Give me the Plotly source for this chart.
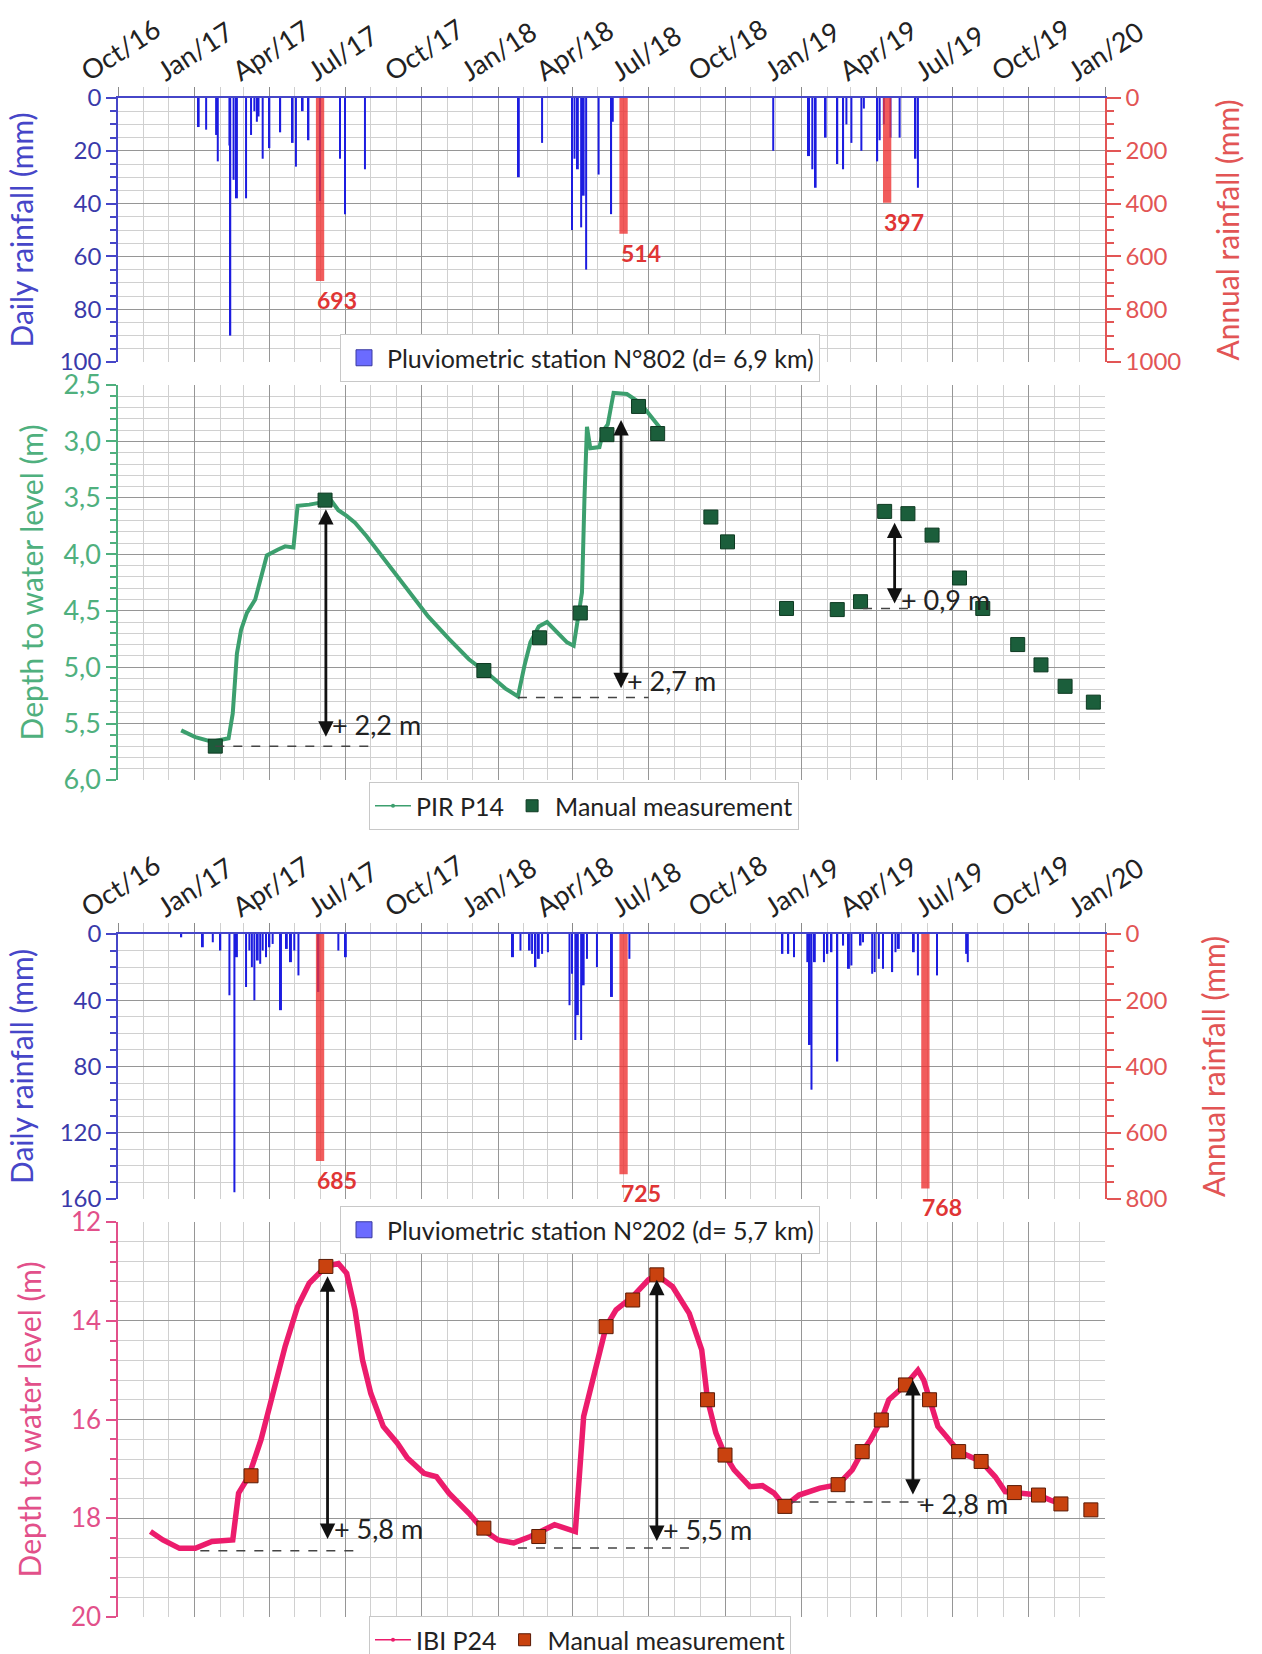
import plotly.graph_objects as go

# ---------------- DATA ----------------
X_START, X_END = "2016-10-01", "2020-01-01"

rain802_dates = ["2017-01-06","2017-01-15","2017-01-27","2017-01-29","2017-02-12","2017-02-13","2017-02-17","2017-02-21",
                 "2017-03-04","2017-03-10","2017-03-14","2017-03-17","2017-03-19","2017-03-24","2017-04-01","2017-04-14",
                 "2017-04-29","2017-05-03","2017-05-11","2017-05-18","2017-06-01","2017-06-25","2017-07-01","2017-07-25",
                 "2018-01-26","2018-02-23","2018-03-31","2018-04-03","2018-04-07","2018-04-11","2018-04-14","2018-04-17",
                 "2018-05-02","2018-05-17","2018-05-19","2018-11-28","2019-01-10","2019-01-14","2019-01-18","2019-01-30",
                 "2019-02-13","2019-02-20","2019-02-24","2019-03-02","2019-03-14","2019-03-17","2019-04-02","2019-04-05",
                 "2019-04-10","2019-04-18","2019-04-29","2019-05-18","2019-05-21"]
rain802_mm = [11,12,14,24,18,90,31,38,
              38,14,5,9,7,23,19,13,
              17,26,5,16,39,23,44,27,
              30,17,50,23,27,49,37,65,
              29,44,9,20,22,27,34,15,
              25,27,10,17,20,4,24,16,
              10,15,15,23,34]
annual802_dates = ["2017-06-01","2018-06-01","2019-04-14"]
annual802_mm = [693,514,397]

rain202_dates = ["2016-12-16","2017-01-11","2017-01-23","2017-02-01","2017-02-12","2017-02-18","2017-02-21","2017-03-04",
                 "2017-03-08","2017-03-11","2017-03-14","2017-03-18","2017-03-21","2017-03-24","2017-03-28","2017-04-01",
                 "2017-04-05","2017-04-15","2017-04-22","2017-04-27","2017-05-01","2017-05-06","2017-05-30","2017-06-23",
                 "2017-07-02","2018-01-19","2018-01-28","2018-02-08","2018-02-11","2018-02-15","2018-02-19","2018-02-23",
                 "2018-03-02","2018-03-28","2018-03-31","2018-04-04","2018-04-07","2018-04-11","2018-04-14","2018-04-18",
                 "2018-04-30","2018-05-18","2018-06-08","2018-12-09","2018-12-16","2018-12-23","2019-01-08","2019-01-11",
                 "2019-01-13","2019-01-17","2019-01-28","2019-02-01","2019-02-06","2019-02-13","2019-02-20","2019-02-27",
                 "2019-03-02","2019-03-13","2019-03-16","2019-03-27","2019-03-30","2019-04-04","2019-04-09","2019-04-20",
                 "2019-04-24","2019-04-28","2019-05-16","2019-05-21","2019-06-13","2019-07-18","2019-07-20"]
rain202_mm = [2,8,5,10,37,156,14,32,
              10,20,40,16,18,10,14,8,
              6,46,9,17,10,25,35,10,
              14,14,10,10,12,20,15,12,
              11,43,24,64,49,64,31,15,
              20,38,15,12,12,14,17,67,
              94,17,17,12,11,77,7,21,
              19,7,5,24,23,15,21,23,
              11,9,11,25,25,12,17]
annual202_dates = ["2017-06-01","2018-06-01","2019-05-30"]
annual202_mm = [685,725,768]

p14_dates = ["2016-12-16","2017-01-02","2017-01-22","2017-02-11","2017-02-16","2017-02-21","2017-02-26","2017-03-05",
             "2017-03-15","2017-03-22","2017-03-29","2017-04-11","2017-04-20","2017-04-30","2017-05-05","2017-05-19",
             "2017-06-03","2017-06-13","2017-06-23","2017-07-03","2017-07-13","2017-07-27","2017-08-21","2017-09-14",
             "2017-10-09","2017-11-03","2017-11-27","2017-12-22","2018-01-10","2018-01-25","2018-02-02","2018-02-09",
             "2018-02-19","2018-03-01","2018-03-10","2018-03-25","2018-04-02","2018-04-07","2018-04-12","2018-04-15",
             "2018-04-18","2018-04-22","2018-05-03","2018-05-08","2018-05-13","2018-05-20","2018-06-05","2018-06-21",
             "2018-07-16"]
p14_depth = [5.56,5.62,5.66,5.63,5.41,4.88,4.67,4.52,
             4.40,4.19,4.01,3.96,3.93,3.94,3.57,3.56,
             3.54,3.51,3.61,3.66,3.72,3.84,4.08,4.31,
             4.55,4.75,4.93,5.07,5.19,5.26,4.98,4.78,
             4.64,4.60,4.67,4.78,4.81,4.60,4.34,3.50,
             2.87,3.06,3.05,2.90,2.85,2.57,2.58,2.66,
             2.89]
p14_manual_dates = ["2017-01-26","2017-06-07","2017-12-15","2018-02-20","2018-04-10","2018-05-12","2018-06-19","2018-07-12",
                    "2018-09-14","2018-10-04","2018-12-14","2019-02-13","2019-03-13","2019-04-11","2019-05-09","2019-06-07",
                    "2019-07-10","2019-08-07","2019-09-18","2019-10-16","2019-11-14","2019-12-18"]
p14_manual = [5.70,3.52,5.03,4.74,4.52,2.94,2.69,2.93,
              3.67,3.89,4.48,4.49,4.42,3.62,3.64,3.83,
              4.21,4.48,4.80,4.98,5.17,5.31]

p24_dates = ["2016-11-09","2016-11-24","2016-12-14","2017-01-02","2017-01-22","2017-02-16","2017-02-23","2017-03-07",
             "2017-03-22","2017-04-06","2017-04-20","2017-05-05","2017-05-19","2017-06-08","2017-06-23","2017-07-03",
             "2017-07-13","2017-07-22","2017-08-01","2017-08-16","2017-09-02","2017-09-14","2017-10-04","2017-10-19",
             "2017-11-03","2017-11-27","2017-12-14","2018-01-01","2018-01-20","2018-02-09","2018-03-10","2018-04-04",
             "2018-04-14","2018-05-11","2018-05-23","2018-06-12","2018-07-01","2018-07-11","2018-07-30","2018-08-19",
             "2018-09-03","2018-09-10","2018-09-20","2018-10-01","2018-10-12","2018-10-31","2018-11-15","2018-11-29",
             "2018-12-12","2018-12-29","2019-01-23","2019-02-14","2019-03-03","2019-03-15","2019-03-25","2019-04-07",
             "2019-04-16","2019-05-06","2019-05-21","2019-05-28","2019-06-04","2019-06-14","2019-06-24","2019-07-09",
             "2019-08-05","2019-08-22","2019-09-03","2019-09-14","2019-10-13","2019-10-27","2019-11-09"]
p24_depth = [18.27,18.44,18.61,18.61,18.47,18.44,17.49,17.16,
             16.41,15.47,14.52,13.71,13.24,12.90,12.84,13.04,
             13.78,14.79,15.47,16.14,16.48,16.78,17.09,17.16,
             17.49,17.90,18.23,18.44,18.50,18.37,18.13,18.27,
             15.94,14.12,13.78,13.51,13.17,13.07,13.31,13.85,
             14.59,15.60,16.27,16.72,17.02,17.36,17.34,17.49,
             17.76,17.53,17.39,17.32,17.02,16.65,16.41,16.01,
             15.60,15.30,15.00,15.20,15.60,16.14,16.34,16.65,
             16.85,17.16,17.46,17.48,17.53,17.63,17.71]
p24_manual_dates = ["2017-03-10","2017-06-08","2017-12-15","2018-02-19","2018-05-11","2018-06-12","2018-07-11","2018-09-10",
                    "2018-10-01","2018-12-12","2019-02-14","2019-03-15","2019-04-07","2019-05-06","2019-06-04","2019-07-09",
                    "2019-08-05","2019-09-14","2019-10-13","2019-11-09","2019-12-15"]
p24_manual = [17.14,12.90,18.20,18.37,14.12,13.58,13.07,15.60,
              16.72,17.76,17.32,16.65,16.01,15.30,15.60,16.65,
              16.85,17.48,17.53,17.71,17.83]

# rises: (date, top, bottom, label, label_y)
p14_rises = [("2017-06-08", 3.60, 5.63, "+ 2,2 m", 5.51),
             ("2018-05-29", 2.81, 5.20, "+ 2,7 m", 5.12),
             ("2019-04-23", 3.72, 4.45, "+ 0,9 m", 4.40)]
p14_baselines = [("2017-01-26", "2017-08-01", 5.70), ("2018-01-25", "2018-07-01", 5.27), ("2019-03-16", "2019-05-10", 4.48)]
p24_rises = [("2017-06-10", 13.10, 18.45, "+ 5,8 m", 18.21),
             ("2018-07-11", 13.17, 18.49, "+ 5,5 m", 18.23),
             ("2019-05-15", 15.20, 17.55, "+ 2,8 m", 17.70)]
p24_baselines = [("2017-01-08", "2017-07-21", 18.66), ("2018-01-25", "2018-08-19", 18.60), ("2018-12-20", "2019-05-28", 17.67)]

# ---------------- STYLE ----------------
W, H = 1262, 1654
FONT = "Lato"
def xd(px): return px / W
def yd(py): return 1 - py / H
X0, X1 = 118, 1105
P1, P2, P3, P4 = (98, 362), (385, 780), (934, 1199), (1222, 1617)
DAY = 86400000

BLUE_BAR = "#1c1ce0"
BLUE_AX = "#4646c8"
BLUE_TXT = "#3a3aaa"
RED = "#ee3333"
RED_AX = "#e25555"
RED_TXT = "#e03535"
GREEN_LINE = "#3c9f6e"
GREEN_AX = "#4fb07e"
GREEN_SQ = "#1b5e3b"
PINK_LINE = "#ec1c6c"
PINK_AX = "#e2508a"
ORANGE_SQ = "#c9420f"
MAJ = "#969696"
MIN = "#d0d0d0"

fig = go.Figure()

# Panel 1
fig.add_trace(go.Bar(x=rain802_dates, y=rain802_mm, width=2.4*DAY, marker=dict(color=BLUE_BAR, line_width=0),
                     xaxis="x", yaxis="y", showlegend=False))
fig.add_trace(go.Bar(x=annual802_dates, y=annual802_mm, width=10*DAY, marker=dict(color=RED, line_width=0),
                     opacity=0.8, xaxis="x", yaxis="y2", showlegend=False))
fig.add_trace(go.Scatter(x=[None], y=[None], mode="markers",
                         marker=dict(symbol="square", size=16, color="#6b6bff", line=dict(color="#3a3aa0", width=1)),
                         name="Pluviometric station N°802 (d= 6,9 km)", xaxis="x", yaxis="y", legend="legend"))
# Panel 2
fig.add_trace(go.Scatter(x=p14_dates, y=p14_depth, mode="lines", line=dict(color=GREEN_LINE, width=4),
                         xaxis="x2", yaxis="y3", showlegend=False))
fig.add_trace(go.Scatter(x=p14_manual_dates, y=p14_manual, mode="markers",
                         marker=dict(symbol="square", size=14, color=GREEN_SQ, line=dict(color="#0e3a22", width=1)),
                         xaxis="x2", yaxis="y3", showlegend=False))
fig.add_trace(go.Scatter(x=[None], y=[None], mode="lines+markers", name="PIR P14",
                         line=dict(color=GREEN_LINE, width=1.5), marker=dict(size=4, color=GREEN_LINE),
                         xaxis="x2", yaxis="y3", legend="legend2"))
fig.add_trace(go.Scatter(x=[None], y=[None], mode="markers", name="Manual measurement",
                         marker=dict(symbol="square", size=12, color=GREEN_SQ, line=dict(color="#0e3a22", width=1)),
                         xaxis="x2", yaxis="y3", legend="legend2"))
# Panel 3
fig.add_trace(go.Bar(x=rain202_dates, y=rain202_mm, width=2.4*DAY, marker=dict(color=BLUE_BAR, line_width=0),
                     xaxis="x3", yaxis="y4", showlegend=False))
fig.add_trace(go.Bar(x=annual202_dates, y=annual202_mm, width=10*DAY, marker=dict(color=RED, line_width=0),
                     opacity=0.8, xaxis="x3", yaxis="y5", showlegend=False))
fig.add_trace(go.Scatter(x=[None], y=[None], mode="markers",
                         marker=dict(symbol="square", size=16, color="#6b6bff", line=dict(color="#3a3aa0", width=1)),
                         name="Pluviometric station N°202 (d= 5,7 km)", xaxis="x3", yaxis="y4", legend="legend3"))
# Panel 4
fig.add_trace(go.Scatter(x=p24_dates, y=p24_depth, mode="lines", line=dict(color=PINK_LINE, width=5.5),
                         xaxis="x4", yaxis="y6", showlegend=False))
fig.add_trace(go.Scatter(x=p24_manual_dates, y=p24_manual, mode="markers",
                         marker=dict(symbol="square", size=14, color=ORANGE_SQ, line=dict(color="#5a1a05", width=1)),
                         xaxis="x4", yaxis="y6", showlegend=False))
fig.add_trace(go.Scatter(x=[None], y=[None], mode="lines+markers", name="IBI P24",
                         line=dict(color=PINK_LINE, width=1.5), marker=dict(size=4, color=PINK_LINE),
                         xaxis="x4", yaxis="y6", legend="legend4"))
fig.add_trace(go.Scatter(x=[None], y=[None], mode="markers", name="Manual measurement",
                         marker=dict(symbol="square", size=12, color=ORANGE_SQ, line=dict(color="#5a1a05", width=1)),
                         xaxis="x4", yaxis="y6", legend="legend4"))

# ---------------- AXES ----------------
def xaxis(anchor, labels):
    d = dict(type="date", range=[X_START, X_END], domain=[xd(X0), xd(X1)], anchor=anchor, automargin=False,
             tick0="2016-10-01", dtick="M3", showgrid=True, gridcolor=MAJ, gridwidth=1.2,
             zeroline=False)
    if labels:
        d.update(side="top", tickformat="%b/%y", tickangle=-33, ticks="outside", ticklen=9,
                 tickcolor="#8a8a8a", showline=True, linecolor=BLUE_AX, linewidth=2, ticklabelshift=-36,
                 ticklabelstandoff=-8,
                 tickfont=dict(family=FONT, size=27, color="#222"),
                 minor=dict(dtick="M1", showgrid=True, gridcolor=MIN, gridwidth=1,
                            ticks="outside", ticklen=9, tickcolor=MIN))
    else:
        d.update(showticklabels=False, ticks="", showline=False,
                 minor=dict(dtick="M1", showgrid=True, gridcolor=MIN, gridwidth=1))
    return d

def yaxis(dom, rng, dtick, mdtick, color, txtcolor, title, fsize, tickvals=None, ticktext=None, right=False,
          overlay=None, anchor="x", tick0=0, standoff=10):
    d = dict(domain=[yd(dom[1]), yd(dom[0])], range=rng, anchor=anchor, automargin=False,
             showline=True, linecolor=color, linewidth=1.5,
             ticks="outside", ticklen=14 if right else 10, tickcolor=color, tickwidth=1.5,
             tickfont=dict(family=FONT, size=fsize, color=txtcolor),
             title=dict(text=title, font=dict(family=FONT, size=30, color=color), standoff=standoff),
             zeroline=False, tick0=tick0, dtick=dtick)
    if tickvals is not None:
        d.update(tickmode="array", tickvals=tickvals, ticktext=ticktext)
    if right:
        d.update(side="right", overlaying=overlay, showgrid=False,
                 minor=dict(dtick=mdtick, tick0=tick0, ticks="outside", ticklen=7, tickcolor=color, showgrid=False))
    else:
        d.update(showgrid=True, gridcolor=MAJ, gridwidth=1.2,
                 minor=dict(dtick=mdtick, tick0=tick0, ticks="outside", ticklen=6, tickcolor=color,
                            showgrid=True, gridcolor=MIN, gridwidth=1))
    return d

p14_ticks = [2.5, 3.0, 3.5, 4.0, 4.5, 5.0, 5.5, 6.0]
p14_ticktext = [f"{v:.1f}".replace(".", ",") for v in p14_ticks]

fig.update_layout(
    xaxis=xaxis("y", True),
    xaxis2=xaxis("y3", False),
    xaxis3=xaxis("y4", True),
    xaxis4=xaxis("y6", False),
    yaxis=yaxis(P1, [100, 0], 20, 5, BLUE_AX, BLUE_TXT, "Daily rainfall (mm)", 24, anchor="x", standoff=17),
    yaxis2=yaxis(P1, [1000, 0], 200, 50, RED_AX, RED_AX, "Annual rainfall (mm)", 24, right=True, overlay="y",
                 anchor="x", standoff=38),
    yaxis3=yaxis(P2, [6.0, 2.5], 0.5, 0.1, GREEN_AX, GREEN_AX, "Depth to water level (m)", 27,
                 tickvals=p14_ticks, ticktext=p14_ticktext, anchor="x2", tick0=2.5, standoff=11),
    yaxis4=yaxis(P3, [160, 0], 40, 10, BLUE_AX, BLUE_TXT, "Daily rainfall (mm)", 24, anchor="x3", standoff=17),
    yaxis5=yaxis(P3, [800, 0], 200, 50, RED_AX, RED_AX, "Annual rainfall (mm)", 24, right=True, overlay="y4",
                 anchor="x3", standoff=38),
    yaxis6=yaxis(P4, [20, 12], 2, 0.4, PINK_AX, PINK_AX, "Depth to water level (m)", 26, anchor="x4", tick0=12,
                 standoff=20),
)

leg = dict(orientation="h", xanchor="left", yanchor="top", bgcolor="white", bordercolor="#c8c8c8", borderwidth=1,
           font=dict(family=FONT, size=25, color="#222"), itemwidth=36)
fig.update_layout(
    legend=dict(leg, x=xd(340), y=yd(334)),
    legend2=dict(leg, x=xd(369), y=yd(782)),
    legend3=dict(leg, x=xd(340), y=yd(1206)),
    legend4=dict(leg, x=xd(369), y=yd(1616)),
)

# ---------------- ANNOTATIONS ----------------
ann = []
for d, v in zip(annual802_dates, annual802_mm):
    ann.append(dict(x=d, y=v, xref="x", yref="y2", text=str(v), showarrow=False, xanchor="left", yanchor="top",
                    xshift=-5, yshift=-3, font=dict(family=FONT, size=23, color=RED_TXT, weight="bold")))
for d, v in zip(annual202_dates, annual202_mm):
    ann.append(dict(x=d, y=v, xref="x3", yref="y5", text=str(v), showarrow=False, xanchor="left", yanchor="top",
                    xshift=-5, yshift=-3, font=dict(family=FONT, size=23, color=RED_TXT, weight="bold")))

def rises(lst, xr, yr):
    out = []
    for d, top, bot, lab, ly in lst:
        out.append(dict(x=d, y=top, ax=d, ay=bot, xref=xr, yref=yr, axref=xr, ayref=yr, text="",
                        showarrow=True, arrowside="end+start", arrowhead=2, arrowsize=1.1, arrowwidth=2.8,
                        arrowcolor="#111", standoff=0, startstandoff=0))
        out.append(dict(x=d, y=ly, xref=xr, yref=yr, text=lab, showarrow=False, xanchor="left", yanchor="middle",
                        xshift=4, font=dict(family=FONT, size=27, color="#222")))
    return out
ann += rises(p14_rises, "x2", "y3")
ann += rises(p24_rises, "x4", "y6")
fig.update_layout(annotations=ann)

shapes = []
for a, b, v in p14_baselines:
    shapes.append(dict(type="line", x0=a, x1=b, y0=v, y1=v, xref="x2", yref="y3",
                       line=dict(color="#444", width=1.5, dash="dash")))
for a, b, v in p24_baselines:
    shapes.append(dict(type="line", x0=a, x1=b, y0=v, y1=v, xref="x4", yref="y6",
                       line=dict(color="#444", width=1.5, dash="dash")))
fig.update_layout(shapes=shapes)

fig.update_layout(template="none", width=W, height=H, autosize=False,
                  margin=dict(l=0, r=0, t=0, b=0, autoexpand=False),
                  paper_bgcolor="white", plot_bgcolor="white", barmode="overlay",
                  font=dict(family=FONT, color="#222"))

fig.write_html("out.html")
